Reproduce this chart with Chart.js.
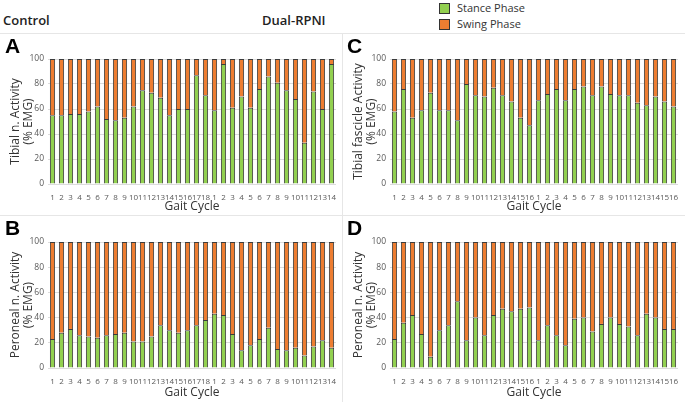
<!DOCTYPE html>
<html>
<head>
<meta charset="utf-8">
<script src="https://cdn.jsdelivr.net/npm/chart.js@4.4.0/dist/chart.umd.min.js"></script>
<style>
  html, body { margin: 0; padding: 0; background: #fff; }
  #page { position: relative; width: 685px; height: 402px; overflow: hidden; font-family: "Open Sans", sans-serif; }
  .panel { position: absolute; }
  .head { position: absolute; font-size: 13px; font-weight: 600; color: #222; }
  .letter { position: absolute; font-family: "Liberation Sans", Arial, sans-serif; font-weight: bold; font-size: 21px; color: #000; }
  .rule { position: absolute; background: #e6e6e6; }
  .key { position: absolute; width: 9px; height: 9px; border: 1px solid #333; }
  .keytext { position: absolute; font-size: 11px; color: #333; }
</style>
</head>
<body>
<div id="page">
  <div class="head" style="left:3px; top:11px;">Control</div>
  <div class="head" style="left:262px; top:11px;">Dual-RPNI</div>

  <div class="key" style="left:439px; top:3px; background:#92D050;"></div>
  <div class="keytext" style="left:457px; top:0px;">Stance Phase</div>
  <div class="key" style="left:439px; top:19px; background:#ED7D31;"></div>
  <div class="keytext" style="left:457px; top:16px;">Swing Phase</div>

  <div class="rule" style="left:0; top:33px; width:685px; height:1px;"></div>
  <div class="rule" style="left:0; top:215px; width:685px; height:1px;"></div>
  <div class="rule" style="left:342px; top:33px; width:1px; height:369px;"></div>

  <div class="panel" style="left:0; top:34px; width:341px; height:180px;"><canvas id="chartA"></canvas></div>
  <div class="panel" style="left:343px; top:34px; width:342px; height:180px;"><canvas id="chartC"></canvas></div>
  <div class="panel" style="left:0; top:216px; width:341px; height:186px;"><canvas id="chartB"></canvas></div>
  <div class="panel" style="left:343px; top:216px; width:342px; height:186px;"><canvas id="chartD"></canvas></div>

  <div class="letter" style="left:5px; top:34px;">A</div>
  <div class="letter" style="left:347px; top:34px;">C</div>
  <div class="letter" style="left:5px; top:216px;">B</div>
  <div class="letter" style="left:347px; top:216px;">D</div>
</div>

<script>
// gait cycle labels
const controlCycles = ['1','2','3','4','5','6','7','8','9','10','11','12','13','14','15','16','17','18',
                       '1','2','3','4','5','6','7','8','9','10','11','12','13','14'];
const rpniCycles = ['1','2','3','4','5','6','7','8','9','10','11','12','13','14','15','16',
                    '1','2','3','4','5','6','7','8','9','10','11','12','13','14','15','16'];

// A: Control, tibial n.
const tibialStance = [55,55,56,56,58,62,52,51,53,62,75,73,69,55,60,60,87,71,59,96,61,70,61,76,86,81,75,68,33,74,60,96];
const tibialSwing  = [45,45,44,44,42,38,48,49,47,38,25,27,31,45,40,40,13,29,41,4,39,30,39,24,14,19,25,32,67,26,40,4];

// B: Control, peroneal n.
const peronealStance = [23,28,31,26,25,24,26,27,28,21,21,25,34,30,28,30,34,38,43,42,27,14,18,23,32,15,14,16,10,17,22,16];
const peronealSwing  = [77,72,69,74,75,76,74,73,72,79,79,75,66,70,72,70,66,62,57,58,73,86,82,77,68,85,86,84,90,83,78,84];

// C: Dual-RPNI, tibial fascicle
const fascicleStance = [58,76,53,59,73,59,59,51,80,71,70,77,71,66,53,47,67,72,76,67,76,78,71,78,72,71,71,65,63,70,66,62];
const fascicleSwing  = [42,24,47,41,27,41,41,49,20,29,30,23,29,34,47,53,33,28,24,33,24,22,29,22,28,29,29,35,37,30,34,38];

// D: Dual-RPNI, peroneal n.
const rpniPeronealStance = [23,36,42,27,9,30,34,53,22,40,26,42,47,45,47,48,22,34,26,18,39,40,29,35,40,35,33,26,43,40,31,31];
const rpniPeronealSwing  = [77,64,58,73,91,70,66,47,78,60,74,58,53,55,53,52,78,66,74,82,61,60,71,65,60,65,67,74,57,60,69,69];

const STANCE = '#92D050';
const SWING = '#ED7D31';
const EDGE = '#3c3c3c';
const FONT = '"Open Sans", sans-serif';

function renderPanel(canvasId, labels, stance, swing, yTitle, opts) {
  const ctx = document.getElementById(canvasId);
  return new Chart(ctx, {
    type: 'bar',
    data: {
      labels,
      datasets: [
        { label: 'Stance Phase', data: stance, backgroundColor: STANCE, borderColor: EDGE, borderWidth: 1 },
        { label: 'Swing Phase', data: swing, backgroundColor: SWING, borderColor: EDGE, borderWidth: 1 },
      ],
    },
    options: {
      responsive: true,
      maintainAspectRatio: false,
      animation: false,
      datasets: { bar: { categoryPercentage: 0.58, barPercentage: 1 } },
      layout: { padding: { top: opts.top, right: opts.right, bottom: opts.bottom, left: 0 } },
      plugins: { legend: { display: false }, tooltip: { enabled: false } },
      scales: {
        x: {
          stacked: true,
          grid: { display: false },
          border: { display: false },
          ticks: { autoSkip: false, maxRotation: 0, minRotation: 0, padding: 1,
                   color: '#595959', font: { family: FONT, size: 8 } },
          title: { display: true, text: 'Gait Cycle', color: '#333', padding: { top: 4, bottom: 0 },
                   font: { family: FONT, size: 12 } },
          afterFit: s => { s.height = opts.xh; },
        },
        y: {
          stacked: true,
          min: 0, max: 100,
          grid: { color: '#dcdcdc', drawTicks: false },
          border: { display: false },
          ticks: { stepSize: 10, padding: 4, color: '#595959', font: { family: FONT, size: 8.5 } },
          title: { display: true, text: yTitle, color: '#333', padding: { top: 9, bottom: 0 },
                   font: { family: FONT, size: 12, lineHeight: 1.1 } },
          afterFit: s => { s.width = opts.yw; },
        },
      },
    },
  });
}

renderPanel('chartA', controlCycles, tibialStance, tibialSwing,
  ['Tibial n. Activity', '(% EMG)'], { top: 25, right: 5, bottom: 0, xh: 30, yw: 48 });
renderPanel('chartB', controlCycles, peronealStance, peronealSwing,
  ['Peroneal n. Activity', '(% EMG)'], { top: 26, right: 5, bottom: 2, xh: 32, yw: 48 });
renderPanel('chartC', rpniCycles, fascicleStance, fascicleSwing,
  ['Tibial fascicle Activity', '(% EMG)'], { top: 25, right: 7, bottom: 0, xh: 30, yw: 47 });
renderPanel('chartD', rpniCycles, rpniPeronealStance, rpniPeronealSwing,
  ['Peroneal n. Activity', '(% EMG)'], { top: 26, right: 7, bottom: 2, xh: 32, yw: 47 });
</script>
</body>
</html>
